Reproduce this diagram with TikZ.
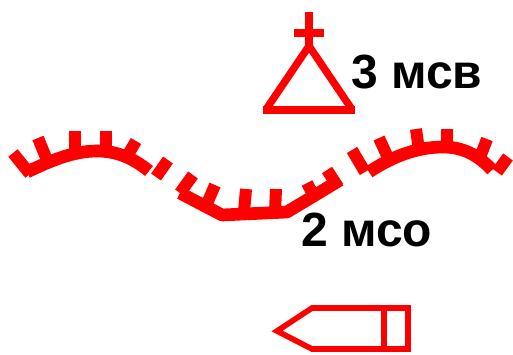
\documentclass[tikz,border=0pt]{standalone}
\usepackage{fontspec}
\setmainfont{Liberation Sans}
\tikzset{
 frontline/.style={draw=red,line width=9.5pt,line join=round},
 tooth/.style={draw=red,line width=9pt},
 sym/.style={draw=red,line width=5.6pt,line join=miter},
 outline/.style={draw=red,line width=4.2pt,line join=miter},
 lab/.style={anchor=base west,inner sep=0pt,font=\fontsize{36}{36}\selectfont\bfseries,text=black}
}
\begin{document}
\begin{tikzpicture}[x=0.75pt,y=-0.75pt]
\useasboundingbox (0,0) rectangle (513,354);
% segment 1
\draw[frontline] (27,172) .. controls (50,161) and (73,151) .. (97,151) .. controls (117,151) and (133,158) .. (149,171);
\draw[tooth] (30,174) -- (13,153);
\draw[tooth] (47,160) -- (38,138);
\draw[tooth] (75,154) -- (75,131);
\draw[tooth] (106,152) -- (106,131);
\draw[tooth] (126,158) -- (136,141);
\draw[tooth] (156,177) -- (168,160);
% segment 2
\draw[frontline] (180,193) -- (222,215) -- (287,212) -- (317,194) -- (340,180);
\draw[tooth] (180,193) -- (193,175);
\draw[tooth] (206,206) -- (215,185);
\draw[tooth] (244,212) -- (246,189);
\draw[tooth] (275,212) -- (276,189);
\draw[tooth] (316,200) -- (307,183);
\draw[tooth] (338,187) -- (327,170);
% segment 3
\draw[frontline] (369,172) .. controls (390,158) and (415,147) .. (443,147) .. controls (465,147) and (480,157) .. (492,170);
\draw[tooth] (365,172) -- (352,150);
\draw[tooth] (389,160) -- (379,138);
\draw[tooth] (419,150) -- (416,129);
\draw[tooth] (447,149) -- (447,129);
\draw[tooth] (479,160) -- (487,139);
\draw[tooth] (497,172) -- (508,157);
% triangle with cross
\draw[sym] (267,108) -- (309,46) -- (351,108);
\draw[sym] (263,110) -- (355,110);
\draw[sym] (309,12) -- (309,45);
\draw[sym] (294,33) -- (324,33);
% arrow shape
\draw[outline] (277,331) -- (312,308) -- (408,308) -- (408,349) -- (312,349) -- cycle;
\draw[outline] (384,308) -- (384,349);
\node[lab] (msv) at (351,88) {3 мсв};
\node[lab] (mso) at (301,246) {2 мсо};
\end{tikzpicture}
\end{document}
